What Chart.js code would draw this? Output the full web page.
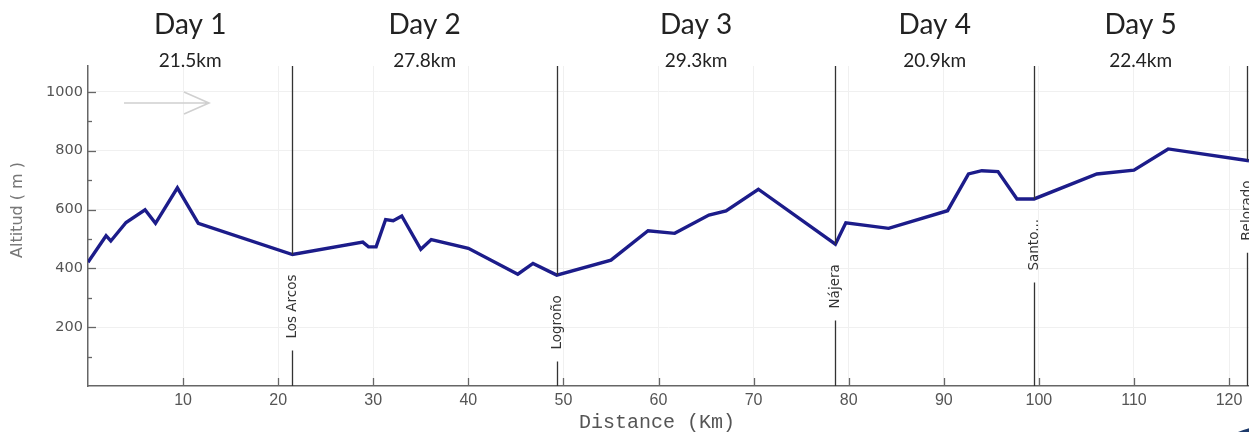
<!DOCTYPE html>
<html>
<head>
<meta charset="utf-8">
<script src="https://cdn.jsdelivr.net/npm/chart.js@4"></script>
<style>
  html, body { margin: 0; padding: 0; background: #fff; }
  #wrap { width: 1249px; height: 432px; position: relative; }
</style>
</head>
<body>
<div id="wrap"><canvas id="profile"></canvas></div>
<script>
// Elevation profile (km along the route, altitude in m)
const distanceKm = [0, 1.9, 2.4, 4.0, 6.0, 7.1, 9.4, 11.6, 21.5, 28.9, 29.5, 30.3, 31.3, 32.1, 33.0, 35.0, 36.1, 40.0, 45.2, 46.8, 49.3,
                    55.0, 58.9, 61.7, 65.3, 67.1, 70.5, 78.6, 79.7, 84.2, 90.4, 92.6, 94.0, 95.7, 97.7, 99.5, 106.1, 110.0, 113.6, 122.1];
const altitudeM = [421, 511, 493, 556, 599, 553, 674, 553, 447, 489, 473, 473, 566, 562, 578, 465, 498, 468, 380, 417, 377,
                   428, 528, 519, 581, 595, 669, 482, 555, 536, 596, 721, 732, 729, 636, 636, 721, 734, 806, 766];

// Stages
const dayLabels = ['Day 1', 'Day 2', 'Day 3', 'Day 4', 'Day 5'];
const dayKm = [21.5, 27.8, 29.3, 20.9, 22.4];
const stageTowns = ['Los Arcos', 'Logroño', 'Nájera', 'Santo...', 'Belorado'];

// Axis ticks
const yLabelValues = [200, 400, 600, 800, 1000];

// helpers
const altitudeAt = (km) => {
    for (let i = 1; i < distanceKm.length; i++) {
        if (km <= distanceKm[i]) {
            const t = (km - distanceKm[i - 1]) / (distanceKm[i] - distanceKm[i - 1]);
            return altitudeM[i - 1] + t * (altitudeM[i] - altitudeM[i - 1]);
        }
    }
    return altitudeM[altitudeM.length - 1];
};

const isLabelled = (v) => yLabelValues.includes(Math.round(v));

const stageEnds = [];
dayKm.reduce((sum, d) => { stageEnds.push(+(sum + d).toFixed(1)); return sum + d; }, 0);

// draws inward ticks, stage markers, day headers, titles
const decorPlugin = {
    id: 'decor',
    afterDatasetsDraw(chart) {
        const { ctx, chartArea, scales } = chart;
        const xs = scales.x, ys = scales.y;

        ctx.save();
        // inward tick marks
        ctx.strokeStyle = '#666';
        ctx.lineWidth = 1.3;
        ys.ticks.forEach(t => {
            if (t.value <= 0) return;
            const y = Math.round(ys.getPixelForValue(t.value)) + 0.5;
            const len = isLabelled(t.value) ? 8 : 4;
            ctx.beginPath();
            ctx.moveTo(chartArea.left, y);
            ctx.lineTo(chartArea.left + len, y);
            ctx.stroke();
        });
        xs.ticks.forEach(t => {
            if (t.value <= 0) return;
            const x = Math.round(xs.getPixelForValue(t.value)) + 0.5;
            ctx.beginPath();
            ctx.moveTo(x, chartArea.bottom);
            ctx.lineTo(x, chartArea.bottom - 8);
            ctx.stroke();
        });

        // direction arrow
        ctx.strokeStyle = '#d0d0d0';
        ctx.lineWidth = 1.6;
        ctx.beginPath();
        ctx.moveTo(124, 103);
        ctx.lineTo(209, 103);
        ctx.moveTo(184, 92);
        ctx.lineTo(209, 103);
        ctx.lineTo(184, 114);
        ctx.stroke();

        // stage town markers
        ctx.font = '13.5px "DejaVu Sans"';
        stageEnds.forEach((km, i) => {
            const x = Math.round(xs.getPixelForValue(km)) + 0.5;
            const yProf = ys.getPixelForValue(altitudeAt(km));
            const top = yProf + 20;
            const w = ctx.measureText(stageTowns[i]).width;
            ctx.strokeStyle = '#333';
            ctx.lineWidth = 1.3;
            ctx.beginPath();
            ctx.moveTo(x, chartArea.top);
            ctx.lineTo(x, yProf);
            ctx.moveTo(x, top + w + 12);
            ctx.lineTo(x, chartArea.bottom);
            ctx.stroke();
            ctx.save();
            ctx.translate(x, top);
            ctx.rotate(-Math.PI / 2);
            ctx.fillStyle = '#333';
            ctx.textAlign = 'right';
            ctx.textBaseline = 'middle';
            ctx.fillText(stageTowns[i], 0, 0);
            ctx.restore();
        });
        ctx.restore();
    },
    afterDraw(chart) {
        const { ctx, scales } = chart;
        const xs = scales.x;
        ctx.save();
        // day headers centred over each stage
        ctx.fillStyle = '#222';
        ctx.textAlign = 'center';
        ctx.textBaseline = 'alphabetic';
        let start = 0;
        stageEnds.forEach((end, i) => {
            const cx = xs.getPixelForValue((start + end) / 2);
            ctx.font = '28px Lato';
            ctx.fillText(dayLabels[i], cx, 34);
            ctx.font = '19px Lato';
            ctx.fillText(dayKm[i].toFixed(1) + 'km', cx, 67);
            start = end;
        });

        // axis titles
        ctx.fillStyle = '#555';
        ctx.font = '20px "Liberation Mono"';
        ctx.textBaseline = 'middle';
        ctx.fillText('Distance (Km)', 657, 423);
        ctx.save();
        ctx.translate(18, 210);
        ctx.rotate(-Math.PI / 2);
        ctx.font = '16px "DejaVu Sans"';
        ctx.fillStyle = '#777';
        ctx.fillText('Altitud ( m )', 0, 0);
        ctx.restore();

        // logo corner
        ctx.fillStyle = '#1d3a6b';
        ctx.beginPath();
        ctx.ellipse(1275, 458, 60, 33, 0, 0, Math.PI * 2);
        ctx.fill();
        ctx.restore();
    }
};

new Chart(document.getElementById('profile'), {
    type: 'line',
    data: {
        datasets: [{
            data: distanceKm.map((km, i) => ({ x: km, y: altitudeM[i] })),
            borderColor: '#1c1c8a',
            borderWidth: 3.4,
            pointRadius: 0,
            tension: 0,
            fill: false
        }]
    },
    options: {
        responsive: true,
        maintainAspectRatio: false,
        animation: false,
        layout: { padding: { top: 66, right: 0, left: 0, bottom: 0 } },
        plugins: { legend: { display: false }, tooltip: { enabled: false } },
        scales: {
            x: {
                type: 'linear',
                min: 0,
                max: 122.1,
                afterFit: (s) => { s.height = 46; },
                border: { color: '#666', width: 1.5 },
                grid: { drawTicks: false, color: (c) => c.tick && c.tick.value > 0 ? '#f0f0f0' : 'transparent' },
                ticks: {
                    stepSize: 10,
                    includeBounds: false,
                    padding: 5,
                    color: '#555',
                    font: { family: '"Liberation Sans Narrow", "Liberation Sans"', size: 16 },
                    callback: (v) => v > 0 ? v : ''
                }
            },
            y: {
                min: 0,
                max: 1088,
                afterFit: (s) => { s.width = 88; },
                border: { color: '#666', width: 1.5 },
                grid: { drawTicks: false, color: (c) => c.tick && isLabelled(c.tick.value) ? '#f0f0f0' : 'transparent' },
                ticks: {
                    stepSize: 100,
                    includeBounds: false,
                    padding: 5,
                    color: '#555',
                    font: { family: 'DejaVu Sans', size: 14.5 },
                    callback: (v) => isLabelled(v) ? Math.round(v) : ''
                }
            }
        }
    },
    plugins: [decorPlugin]
});
</script>
</body>
</html>
